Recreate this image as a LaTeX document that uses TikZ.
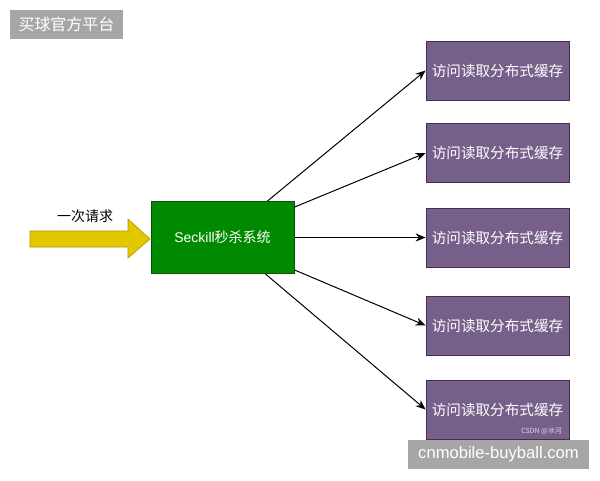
\documentclass[tikz,border=0pt]{standalone}
\usepackage{fontspec}
\setmainfont{Noto Sans CJK SC}
\newfontfamily\latinsans{Liberation Sans}
\usetikzlibrary{arrows.meta}
\definecolor{gfill}{HTML}{008A00}
\definecolor{gline}{HTML}{005700}
\definecolor{pfill}{HTML}{76608A}
\definecolor{pline}{HTML}{432D57}
\definecolor{yfill}{HTML}{E3C800}
\definecolor{yline}{HTML}{B09500}
\definecolor{wmgray}{HTML}{A6A6A6}
\tikzset{
  cachebox/.style={draw=pline, fill=pfill, line width=0.8pt, minimum width=143pt, minimum height=59pt, inner sep=0pt, text=white, font=\fontsize{14.6pt}{16pt}\selectfont},
  sysbox/.style={draw=gline, fill=gfill, line width=0.8pt, minimum width=143pt, minimum height=72pt, inner sep=0pt, text=white, font=\fontsize{14pt}{16pt}\selectfont},
  conn/.style={-{Stealth[length=10pt,width=8pt]}, line width=1pt, black},
  wmark/.style={fill=wmgray, text=white, inner sep=0pt}
}
\begin{document}
\begin{tikzpicture}[x=1pt,y=-1pt]
\useasboundingbox (0,0) rectangle (600,480);
\fill[white] (0,0) rectangle (600,480);
% watermark top-left
\node[wmark, minimum width=113pt, minimum height=29pt, font=\fontsize{16pt}{17pt}\selectfont] (wm1) at (66.5,24.5) {买球官方平台};
% system box
\node[sysbox] (sys) at (222.5,237.5) {\latinsans Seckill\rmfamily 秒杀系统};
% yellow arrow
\draw[draw=yline, fill=yfill, line width=0.6pt] (30,231) -- (128,231) -- (128,219) -- (150,239) -- (128,258) -- (128,247) -- (30,247) -- cycle;
\node[font=\fontsize{14pt}{15pt}\selectfont] (req) at (85,216) {一次请求};
% cache boxes
\node[cachebox] (c1) at (497.5,70.5) {访问读取分布式缓存};
\node[cachebox] (c2) at (497.5,153) {访问读取分布式缓存};
\node[cachebox] (c3) at (497.5,237.5) {访问读取分布式缓存};
\node[cachebox] (c4) at (497.5,325.5) {访问读取分布式缓存};
\node[cachebox] (c5) at (497.5,409.5) {访问读取分布式缓存};
\node[text=white!75!pfill, font=\fontsize{7pt}{8pt}\selectfont, anchor=east, inner sep=0pt] (csdn) at (562,431) {CSDN @冰河};
% connectors
\draw[conn] ([xshift=-27pt]sys.north east) -- (c1.west);
\draw[conn] ([yshift=-6pt]sys.north east) -- (c2.west);
\draw[conn] (sys.east) -- (c3.west);
\draw[conn] ([yshift=4pt]sys.south east) -- (c4.west);
\draw[conn] ([xshift=-29pt]sys.south east) -- (c5.west);
% watermark bottom-right
\node[wmark, minimum width=181pt, minimum height=29pt, font=\latinsans\fontsize{16.6pt}{18pt}\selectfont] (wm2) at (498.5,454.5) {cnmobile-buyball.com};
\end{tikzpicture}
\end{document}
